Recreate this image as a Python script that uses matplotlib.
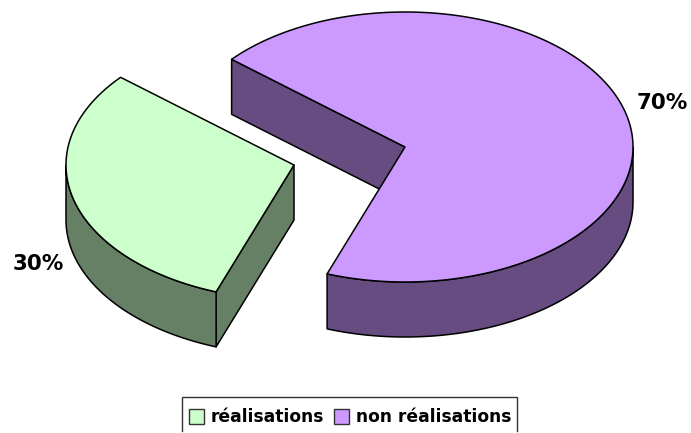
import numpy as np
import matplotlib
matplotlib.use('Agg')
import matplotlib.pyplot as plt
from matplotlib.patches import Polygon, Rectangle

#-------------------------------------------------------------------------
# data, labels are rounded, the slices read about 30.7 / 69.3 on the picture
names = ['réalisations', 'non réalisations']
shares = [30.7, 69.3]
share_labels = ['30%', '70%']
# styles
top_colors = ['#CCFFCC', '#CC99FF']
wall_colors = ['#668066', '#664C80']
centers = [(294, 165), (405, 147)]
label_pos = [(38, 264), (662, 103)]
start_angle = 139.5  # where the first slice starts, degrees ccw
rx, ry, depth = 228, 135, 55
#-------------------------------------------------------------------------


def rim(c, a0, a1):
    # points on the top ellipse, y axis points down
    t = np.radians(np.linspace(a0, a1, max(int(abs(a1 - a0)) * 2, 2)))
    return np.column_stack((c[0] + rx*np.cos(t), c[1] - ry*np.sin(t)))


def add_poly(ax, pts, color):
    ax.add_patch(Polygon(pts, closed=True, facecolor=color, edgecolor='black',
                         linewidth=1.1, joinstyle='round'))


fig = plt.figure(figsize=(6.91, 4.33), dpi=100)
ax = fig.add_axes([0, 0, 1, 1])
ax.set_xlim(0, 691)
ax.set_ylim(433, 0)
ax.axis('off')

a0 = start_angle
for i in range(len(shares)):
    a1 = a0 + shares[i]*3.6
    c = np.array(centers[i])
    down = np.array([0, depth])

    # straight side walls that face the viewer
    for a, normal in ((a0, a0 - 90), (a1, a1 + 90)):
        if np.sin(np.radians(normal)) < 0:
            p = rim(c, a, a)[0]
            add_poly(ax, [c, p, p + down, c + down], wall_colors[i])

    # outer wall, only the front half of the rim
    for k in (0, 360):
        lo, hi = max(a0, 180 + k), min(a1, 360 + k)
        if lo < hi:
            arc = rim(c, lo, hi)
            add_poly(ax, np.vstack((arc, arc[::-1] + down)), wall_colors[i])

    # top face
    add_poly(ax, np.vstack((c, rim(c, a0, a1))), top_colors[i])

    ax.text(label_pos[i][0], label_pos[i][1], share_labels[i], fontsize=15.5,
            fontweight='bold', ha='center', va='center', family='DejaVu Sans')
    a0 = a1

# legend box, the image cuts it off at the bottom
ax.plot([182, 182, 517, 517], [431, 397, 397, 431], color='#333333', lw=1.0,
        solid_joinstyle='miter')
swatch_x = [189, 334]
text_x = [211, 356]
for i in range(len(names)):
    ax.add_patch(Rectangle((swatch_x[i], 409), 15, 15, facecolor=top_colors[i],
                           edgecolor='#333333', linewidth=1.0))
    ax.text(text_x[i], 417, names[i], fontsize=12.3, fontweight='bold',
            ha='left', va='center', family='DejaVu Sans')

fig.savefig('out.png', dpi=100)
